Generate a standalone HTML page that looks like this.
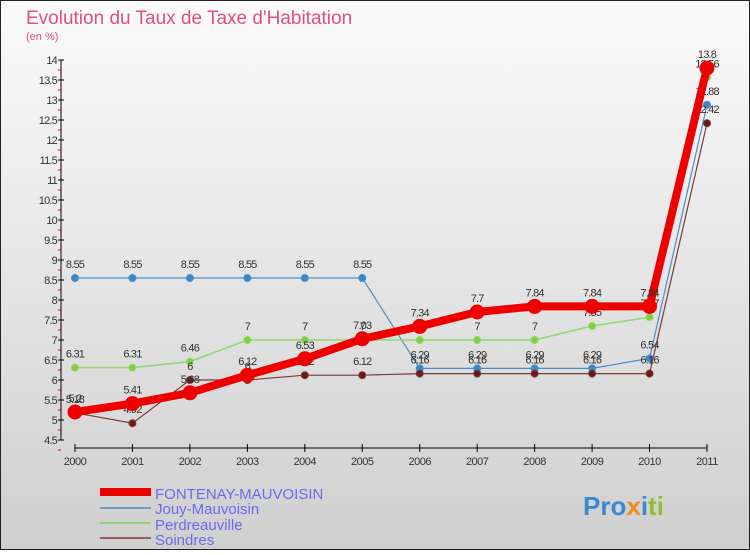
<!DOCTYPE html>
<html><head><meta charset="utf-8">
<style>
body{margin:0;width:750px;height:550px;overflow:hidden;font-family:"Liberation Sans",sans-serif}
</style></head>
<body>
<svg id="chart" width="750" height="550" xmlns="http://www.w3.org/2000/svg">
<defs><linearGradient id="bg" x1="0" y1="0" x2="0" y2="1"><stop offset="0" stop-color="#fbfbfb"/><stop offset="1" stop-color="#cfcfcf"/></linearGradient></defs>
<rect x="0.5" y="0.5" width="749" height="549" fill="url(#bg)" stroke="#222"/>
<text x="26" y="24" font-size="19" fill="#e0507a">Evolution du Taux de Taxe d'Habitation</text>
<text x="26" y="40" font-size="11" fill="#e0507a">(en %)</text>
<g id="axes"></g>
<g id="series"></g>
<g id="legend">
<rect x="100" y="488" width="51" height="8" fill="#e00"/>
<text x="155" y="499" font-size="15" fill="#6a6af0">FONTENAY-MAUVOISIN</text>
<rect x="100" y="507" width="51" height="2" fill="#6aa0c8"/>
<text x="155" y="514" font-size="15" fill="#6a6af0">Jouy-Mauvoisin</text>
<rect x="100" y="522" width="51" height="2" fill="#90d070"/>
<text x="155" y="530" font-size="15" fill="#6a6af0">Perdreauville</text>
<rect x="100" y="537" width="51" height="2" fill="#906060"/>
<text x="155" y="545" font-size="15" fill="#6a6af0">Soindres</text>
</g>
<text x="583" y="515" font-size="26" font-weight="bold"><tspan fill="#3a8ad0">Pro</tspan><tspan fill="#f08a20">x</tspan><tspan fill="#3a8ad0">i</tspan><tspan fill="#90c030">ti</tspan></text>
</svg>
<script>
const years=[2000,2001,2002,2003,2004,2005,2006,2007,2008,2009,2010,2011];
const fontenay=[5.2,5.41,5.68,6.12,6.53,7.03,7.34,7.7,7.84,7.84,7.84,13.8];
const jouy=[8.55,8.55,8.55,8.55,8.55,8.55,6.29,6.29,6.29,6.29,6.54,12.88];
const perdreauville=[6.31,6.31,6.46,7,7,7,7,7,7,7.35,7.57,13.56];
const soindres=[5.18,4.92,6,6,6.12,6.12,6.16,6.16,6.16,6.16,6.16,12.42];
const yTicks=[4.5,5,5.5,6,6.5,7,7.5,8,8.5,9,9.5,10,10.5,11,11.5,12,12.5,13,13.5,14];
const NS="http://www.w3.org/2000/svg";
function xs(i){return 75+i*(707-75)/(years.length-1);}
function ys(v){return 420-(v-5)*40;}
function mk(tag,attrs,parent){const e=document.createElementNS(NS,tag);for(const k in attrs)e.setAttribute(k,attrs[k]);parent.appendChild(e);return e;}
const ax=document.getElementById('axes');
let yAxis=mk('line',{x1:61,y1:ys(14),x2:61,y2:ys(4.5),stroke:'#000'},ax);


yTicks.forEach(v=>{
  mk('line',{x1:58,y1:ys(v),x2:64,y2:ys(v),stroke:'#000'},ax);
  mk('line',{x1:58,y1:ys(v)+10,x2:61,y2:ys(v)+10,stroke:'#e00'},ax);
  const t=mk('text',{x:57,y:ys(v)+4,'font-size':11,'text-anchor':'end',fill:'#333','letter-spacing':'-0.8'},ax);
  t.textContent=String(v);
  
  
});
let xAxis=mk('line',{x1:xs(0),y1:448,x2:xs(years.length-1),y2:448,stroke:'#000'},ax);


years.forEach((y,i)=>{
  mk('line',{x1:xs(i),y1:444,x2:xs(i),y2:452,stroke:'#000'},ax);
  const t=mk('text',{x:xs(i),y:465,'font-size':11,'text-anchor':'middle',fill:'#333','letter-spacing':'-0.5'},ax);
  t.textContent=String(y);
  
  
});
const sg=document.getElementById('series');
function draw(data,name,color,w,r,dot){
  const g=mk('g',{},sg);
  
  
  const pl=mk('polyline',{points:data.map((v,i)=>xs(i)+','+ys(v)).join(' '),fill:'none',stroke:color,'stroke-width':w,'stroke-linejoin':'round'},g);
  
  
  data.forEach((v,i)=>{
    const c=mk('circle',{cx:xs(i),cy:ys(v),r:r,fill:dot,stroke:color,'stroke-width':1},g);
    
    
    const t=mk('text',{x:xs(i),y:ys(v)-10,'font-size':11,'text-anchor':'middle',fill:'#333','letter-spacing':'-0.8'},g);
    t.textContent=String(v);
    
    
  });
}
draw(jouy,'jouy','#4a90c8',1.2,3.5,'#3a88c8');
draw(perdreauville,'perdreauville','#90d870',1.5,3.5,'#80d040');
draw(soindres,'soindres','#7a3a3a',1.2,3.5,'#6a1a1a');
draw(fontenay,'fontenay','#ee0000',8,7,'#ee0000');
</script>
</body></html>
